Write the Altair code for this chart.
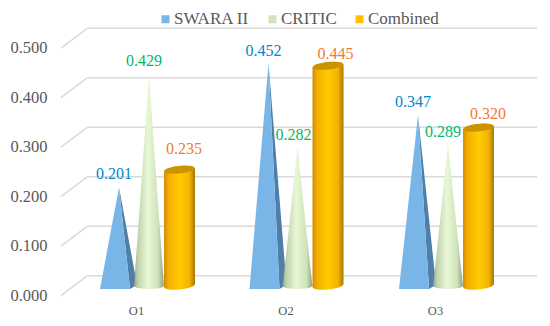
import math
import altair as alt
import pandas as pd

categories = ["O1", "O2", "O3"]
swara = [0.201, 0.452, 0.347]
critic = [0.429, 0.282, 0.289]
combined = [0.235, 0.445, 0.320]
series_names = ["SWARA II", "CRITIC", "Combined"]
legend_colors = ["#7AB5E8", "#CFE3BC", "#FFC000"]
y_ticks = [0.0, 0.1, 0.2, 0.3, 0.4, 0.5]
x_ticks = [1, 2, 3]

# scale geometry: pixels per data unit, used to size the pseudo-3D shapes
PX_Y = 495.0
PX_X = 149.5
W, H = 487, 292
X_DOMAIN = [1 - 86 / PX_X, 1 - 86 / PX_X + W / PX_X]
Y_DOMAIN = [-24.3 / PX_Y, (H - 24.3) / PX_Y]


def ux(c, px):
    return c + px / PX_X


def uy(px):
    return -px / PX_Y


X = alt.X("x:Q", scale=alt.Scale(domain=X_DOMAIN, nice=False, zero=False),
          axis=alt.Axis(values=x_ticks, labelExpr="'O' + datum.value", grid=False, domain=False,
                        ticks=False, title=None, labelFontSize=12.5, labelColor="#595959",
                        labelFont="Liberation Serif", labelPadding=4, labelFlush=False))
Y = alt.Y("y:Q", scale=alt.Scale(domain=Y_DOMAIN, nice=False, zero=False),
          axis=alt.Axis(values=y_ticks, format="0.3f", grid=False, domain=False, ticks=False,
                        title=None, labelFontSize=16.5, labelColor="#595959",
                        labelFont="Liberation Serif", labelPadding=3, labelOffset=19.5))
X2 = alt.X2("x2:Q")
Y2 = alt.Y2("y2:Q")

# wall and floor gridlines
grid_rows, diag_rows = [], []
for t in y_ticks:
    grid_rows.append({"x": ux(1, 87.5 - 136), "x2": ux(1, 537 - 136), "y": t, "y2": t})
    diag_rows.append({"x": ux(1, 61 - 136), "x2": ux(1, 87.5 - 136), "y": t + uy(20), "y2": t})
grid_style = dict(color="#DADADA", strokeWidth=1.5)
grid = alt.Chart(pd.DataFrame(grid_rows + diag_rows)).mark_rule(**grid_style).encode(x=X, x2=X2, y=Y, y2=Y2)

# pyramids
front, side = [], []
for i, v in enumerate(swara):
    c = i + 1
    tip_y = v + uy(11)
    front += [
        {"id": i, "x": ux(c, -36), "y": uy(13.3), "y2": uy(13.3)},
        {"id": i, "x": ux(c, -17), "y": tip_y, "y2": uy(13.3)},
        {"id": i, "x": ux(c, -6), "y": uy(13.3), "y2": uy(13.3)},
    ]
    back = uy(9)
    f = 11 / 18
    side += [
        {"id": i, "x": ux(c, -17), "y": tip_y, "y2": tip_y},
        {"id": i, "x": ux(c, -6), "y": tip_y + (back - tip_y) * f, "y2": uy(13.3)},
        {"id": i, "x": ux(c, 1), "y": back, "y2": back},
    ]
front_mark = alt.Chart(pd.DataFrame(front)).mark_area(color="#7AB5E8", opacity=1).encode(x=X, y=Y, y2=Y2, detail="id:N")
side_mark = alt.Chart(pd.DataFrame(side)).mark_area(color="#4F7FA8", opacity=1).encode(x=X, y=Y, y2=Y2, detail="id:N")

# cones
N = 24
cones = []
for i, v in enumerate(critic):
    c = i + 1
    cx = 13 if i != 1 else 12
    hw = 15.0
    for k in range(N + 1):
        d = -1 + 2 * k / N
        bottom = uy(10.2) + uy(3.0 * math.sqrt(max(0, 1 - d * d)))
        tip = v + uy(11)
        top = bottom + (tip - bottom) * (1 - abs(d))
        cones.append({"id": i, "x": ux(c, cx + d * hw), "y": top, "y2": bottom})
cone_fill = alt.Gradient(
    gradient="linear", x1=0, y1=0, x2=1, y2=0,
    stops=[
        alt.GradientStop(offset=0, color="#8FA07E"),
        alt.GradientStop(offset=0.12, color="#BFD0AC"),
        alt.GradientStop(offset=0.45, color="#E8F8D6"),
        alt.GradientStop(offset=0.8, color="#CFE3BA"),
        alt.GradientStop(offset=1, color="#8F9F80"),
    ],
)
cone_mark = alt.Chart(pd.DataFrame(cones)).mark_area(fill=cone_fill, opacity=1).encode(x=X, y=Y, y2=Y2, detail="id:N")

# cylinders
bodies, caps = [], []
RY = 3.8
TILT = 1.5
for i, v in enumerate(combined):
    c = i + 1
    cx = 43.5 if i != 1 else 42.5
    hw = 15.5
    for k in range(N + 1):
        d = -1 + 2 * k / N
        arc = math.sqrt(max(0, 1 - d * d))
        tilt_px = -d * TILT
        bottom = uy(10.0 + tilt_px + RY * arc)
        yc = v + uy(10.3 + tilt_px)
        bodies.append({"id": i, "x": ux(c, cx + d * hw), "y": yc, "y2": bottom})
        caps.append({"id": i, "x": ux(c, cx + d * hw), "y": yc + RY * arc / PX_Y, "y2": yc - RY * arc / PX_Y})
cyl_fill = alt.Gradient(
    gradient="linear", x1=0, y1=0, x2=1, y2=0,
    stops=[
        alt.GradientStop(offset=0, color="#D08E00"),
        alt.GradientStop(offset=0.15, color="#F5AE00"),
        alt.GradientStop(offset=0.5, color="#FFCC00"),
        alt.GradientStop(offset=0.82, color="#F2B400"),
        alt.GradientStop(offset=1, color="#A87700"),
    ],
)
body_mark = alt.Chart(pd.DataFrame(bodies)).mark_area(fill=cyl_fill, opacity=1).encode(x=X, y=Y, y2=Y2, detail="id:N")
cap_mark = alt.Chart(pd.DataFrame(caps)).mark_area(color="#CC9200", opacity=1).encode(x=X, y=Y, y2=Y2, detail="id:N")

# value labels
label_colors = ["#0088CC", "#00B868", "#F27A33"]
label_dx = [[-22, -22, -22], [8, 8, 8], [48, 50, 53]]
label_dy = [[13, 12, 13], [13, 12, 12], [21, 12, 14]]
label_layers = []
for s, (vals, col) in enumerate(zip([swara, critic, combined], label_colors)):
    rows = []
    for i, v in enumerate(vals):
        rows.append({"x": ux(i + 1, label_dx[s][i]), "y": v + uy(11 - label_dy[s][i]), "label": f"{v:.3f}"})
    label_layers.append(
        alt.Chart(pd.DataFrame(rows))
        .mark_text(color=col, font="Liberation Serif", fontSize=16, align="center", baseline="middle")
        .encode(x=X, y=Y, text="label:N")
    )

# legend carrier
legend_df = pd.DataFrame({"series": series_names, "x": [1, 2, 3], "y": [0.0, 0.0, 0.0]})
legend_mark = alt.Chart(legend_df).mark_square(size=0, opacity=1).encode(
    x=X, y=Y,
    color=alt.Color(
        "series:N",
        scale=alt.Scale(domain=series_names, range=legend_colors),
        legend=alt.Legend(
            orient="none", legendX=107, legendY=2.5, direction="horizontal", title=None, columns=3,
            symbolType="square", symbolSize=64, symbolOpacity=1, symbolStrokeWidth=0,
            labelFont="Liberation Serif", labelFontSize=17, labelColor="#595959",
            columnPadding=14, labelOffset=0, padding=0, labelLimit=200,
        ),
    ),
)

chart = alt.layer(
    grid, side_mark, front_mark, cone_mark, body_mark, cap_mark, *label_layers, legend_mark
).properties(
    width=W, height=H,
    autosize=alt.AutoSizeParams(type="none"),
    padding={"left": 42, "top": 0, "right": 0, "bottom": 18},
    background="white",
).configure_view(stroke=None)

chart.save("out.html", embed_options={"renderer": "svg", "actions": False})
